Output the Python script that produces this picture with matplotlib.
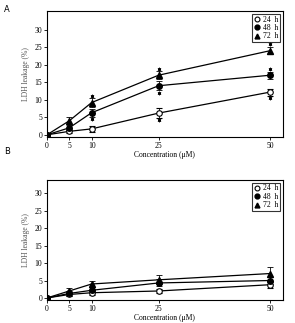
import matplotlib
matplotlib.use("Agg")
import matplotlib.pyplot as plt
from matplotlib.lines import Line2D

plt.rcParams['font.family'] = ['Liberation Serif', 'DejaVu Serif']

conc = [0, 5, 10, 25, 50]
xticks = [0, 5, 10, 25, 50]
yticks = [0, 5, 10, 15, 20, 25, 30]
labels = ['24  h', '48  h', '72  h']

# panel A
a_24 = [0, 1.0, 1.7, 6.2, 12.2]
a_24_err = [0, 0.4, 0.8, 1.5, 1.0]
a_48 = [0, 2.0, 6.3, 14.0, 17.0]
a_48_err = [0, 0.8, 1.2, 1.3, 1.0]
a_72 = [0, 4.0, 9.2, 17.0, 24.0]
a_72_err = [0, 1.0, 1.2, 1.2, 1.0]
a_star_x = [10, 10, 25, 25, 25, 50, 50, 50]
a_star_y = [11.2, 4.5, 18.7, 11.8, 4.2, 25.8, 18.9, 10.5]

# panel B
b_24 = [0, 1.0, 1.5, 2.0, 3.8]
b_24_err = [0, 0.4, 0.6, 0.7, 0.9]
b_48 = [0, 1.3, 2.2, 4.3, 5.0]
b_48_err = [0, 0.6, 0.8, 1.0, 0.9]
b_72 = [0, 2.0, 4.0, 5.2, 7.0]
b_72_err = [0, 0.8, 1.0, 1.3, 2.0]

fig = plt.figure(figsize=(2.95, 3.23), dpi=100)
axA = fig.add_axes([0.159, 0.576, 0.800, 0.390])
axB = fig.add_axes([0.159, 0.071, 0.800, 0.372])


def draw(ax, s24, e24, s48, e48, s72, e72, ytop):
    kw = dict(color='black', lw=0.9, capsize=2.2, elinewidth=0.6, capthick=0.6, ms=4)
    ax.errorbar(conc, s24, yerr=e24, marker='o', mfc='white', mec='black', mew=0.8, **kw)
    ax.errorbar(conc, s48, yerr=e48, marker='o', mfc='black', **kw)
    ax.errorbar(conc, s72, yerr=e72, marker='^', mfc='black', **kw)
    ax.set_xlim(0, 52.8)
    ax.set_ylim(-0.6, ytop)
    ax.set_xticks(xticks)
    ax.set_yticks(yticks)
    ax.tick_params(labelsize=5.5, length=2, width=0.6, pad=1.5)
    for sp in ax.spines.values():
        sp.set_linewidth(0.8)
    ax.set_ylabel('LDH leakage (%)', fontsize=5.5, color='#555555', labelpad=3)
    ax.set_xlabel('Concentration (μM)', fontsize=5.5, labelpad=1)
    handles = [
        Line2D([], [], ls='none', marker='o', mfc='white', mec='black', mew=0.8, ms=3.5),
        Line2D([], [], ls='none', marker='o', mfc='black', mec='black', ms=3.5),
        Line2D([], [], ls='none', marker='^', mfc='black', mec='black', ms=3.5),
    ]
    leg = ax.legend(handles, labels, loc='upper right', fontsize=5.5, frameon=True,
                    fancybox=False, edgecolor='black', handlelength=0.8,
                    handletextpad=0.4, borderpad=0.25, labelspacing=0.05,
                    borderaxespad=0.35)
    leg.get_frame().set_linewidth(0.8)


draw(axA, a_24, a_24_err, a_48, a_48_err, a_72, a_72_err, 35.3)
axA.scatter(a_star_x, a_star_y, marker=(6, 2, 0), s=5, color='black', linewidths=0.5)
draw(axB, b_24, b_24_err, b_48, b_48_err, b_72, b_72_err, 33.8)

fig.text(0.012, 0.985, 'A', fontsize=6, family='DejaVu Sans', va='top')
fig.text(0.015, 0.545, 'B', fontsize=6, family='DejaVu Sans', va='top')

fig.savefig('out.png', dpi=100)
